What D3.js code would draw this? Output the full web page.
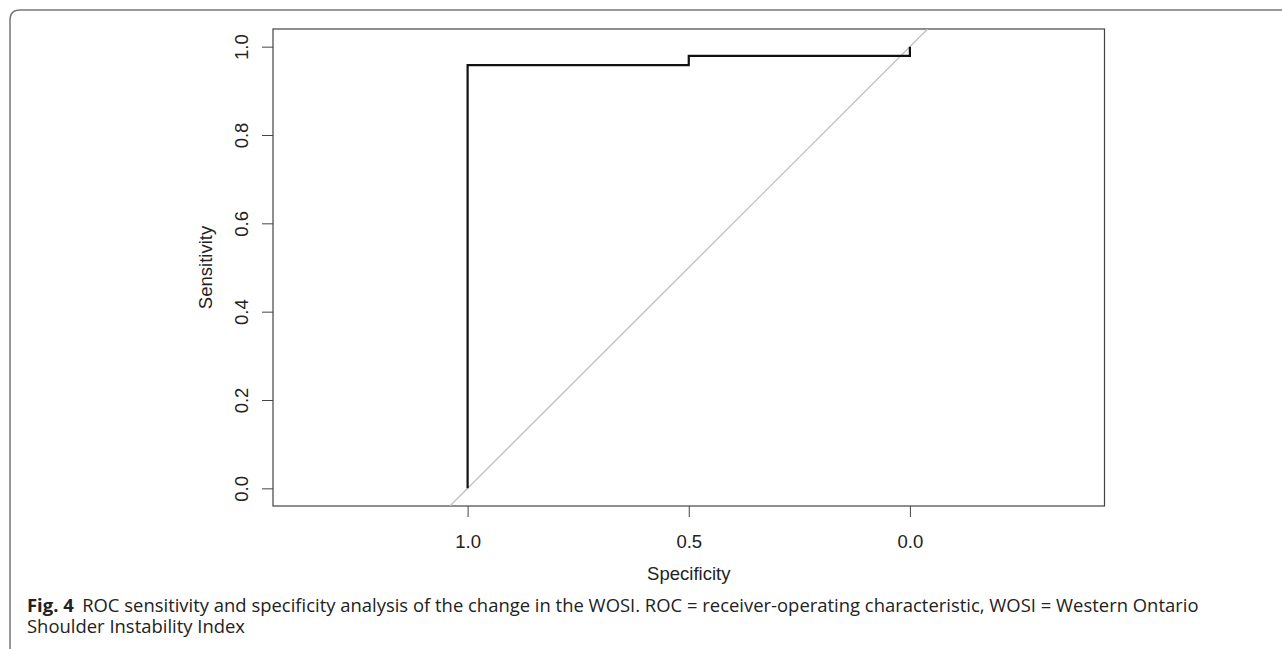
<!DOCTYPE html>
<html>
<head>
<meta charset="utf-8">
<script src="https://cdn.jsdelivr.net/npm/d3@7"></script>
<style>
  body { margin: 0; background: #fff; }
  svg { display: block; }
</style>
</head>
<body>
<div id="chart"></div>
<script>
// ROC curve steps (specificity, sensitivity)
const specificity = [1.0, 1.0, 0.5, 0.5, 0.0, 0.0];
const sensitivity = [0.0, 0.958, 0.958, 0.979, 0.979, 1.0];
const tickValues = [0, 0.2, 0.4, 0.6, 0.8, 1.0];
const xTickValues = [1.0, 0.5, 0.0];
const captionBold = "Fig. 4";
const captionLine1 = "ROC sensitivity and specificity analysis of the change in the WOSI. ROC = receiver-operating characteristic, WOSI = Western Ontario";
const captionLine2 = "Shoulder Instability Index";

const width = 1282, height = 649;
const box = { left: 273, right: 1104.5, top: 29, bottom: 506 };

const svg = d3.select('#chart')
  .append('svg')
    .attr('width', width)
    .attr('height', height);

// figure frame (rounded top-left corner, open right side)
svg.append('path')
  .attr('d', `M10,${height + 5} L10,20 Q10,10 20,10 L${width + 5},10`)
  .attr('fill', 'none')
  .attr('stroke', '#777')
  .attr('stroke-width', 1.5);

const x = d3.scaleLinear()
  .domain([1.44, -0.44])
  .range([box.left, box.right]);

const y = d3.scaleLinear()
  .domain([-0.04, 1.04])
  .range([box.bottom, box.top]);

const tickFont = '"Liberation Sans", Arial, Helvetica, sans-serif';
const fs = 18.5;

// y axis
const yAxis = svg.append('g')
  .attr('transform', `translate(${box.left},0)`)
  .call(d3.axisLeft(y).tickValues(tickValues).tickSize(11).tickFormat(d3.format('.1f')));
yAxis.select('.domain').remove();
yAxis.selectAll('line').attr('stroke', '#444');
yAxis.selectAll('text')
  .style('font-family', tickFont)
  .style('font-size', fs + 'px')
  .attr('fill', '#222')
  .attr('text-anchor', 'middle')
  .attr('x', 0)
  .attr('dy', 0)
  .attr('transform', 'translate(-25,0) rotate(-90)');

// x axis
const xAxis = svg.append('g')
  .attr('transform', `translate(0,${box.bottom})`)
  .call(d3.axisBottom(x).tickValues(xTickValues).tickSize(11).tickFormat(d3.format('.1f')));
xAxis.select('.domain').remove();
xAxis.selectAll('line').attr('stroke', '#444');
xAxis.selectAll('text')
  .style('font-family', tickFont)
  .style('font-size', fs + 'px')
  .attr('fill', '#222')
  .attr('y', 42)
  .attr('dy', 0);

// plot box
svg.append('rect')
  .attr('x', box.left)
  .attr('y', box.top)
  .attr('width', box.right - box.left)
  .attr('height', box.bottom - box.top)
  .attr('fill', 'none')
  .attr('stroke', '#444')
  .attr('stroke-width', 1.2);

// axis titles
svg.append('text')
  .attr('x', x(0.5))
  .attr('y', 580)
  .attr('text-anchor', 'middle')
  .style('font-family', tickFont)
  .style('font-size', fs + 'px')
  .attr('fill', '#222')
  .text('Specificity');

svg.append('text')
  .attr('transform', `translate(212,${(box.top + box.bottom) / 2}) rotate(-90)`)
  .attr('text-anchor', 'middle')
  .style('font-family', tickFont)
  .style('font-size', fs + 'px')
  .attr('fill', '#222')
  .text('Sensitivity');

// chance diagonal clipped to the box
svg.append('clipPath').attr('id', 'plot-clip')
  .append('rect')
    .attr('x', box.left).attr('y', box.top)
    .attr('width', box.right - box.left).attr('height', box.bottom - box.top);

svg.append('line')
  .attr('clip-path', 'url(#plot-clip)')
  .attr('x1', x(1.04)).attr('y1', y(-0.04))
  .attr('x2', x(-0.04)).attr('y2', y(1.04))
  .attr('stroke', '#c0c0c0')
  .attr('stroke-width', 1.3);

// ROC curve
const roc = specificity.map((s, i) => ({ spec: s, sens: sensitivity[i] }));
svg.append('path')
  .datum(roc)
  .attr('fill', 'none')
  .attr('stroke', '#111')
  .attr('stroke-width', 2.2)
  .attr('d', d3.line().x(d => x(d.spec)).y(d => y(d.sens)));

// caption
const cap = svg.append('g')
  .style('font-family', '"Open Sans", "Noto Sans", sans-serif')
  .style('font-size', '17.5px')
  .attr('fill', '#222');

const l1 = cap.append('text').attr('x', 0).attr('y', 612);
l1.append('tspan').attr('font-weight', 'bold').text(captionBold);
l1.append('tspan').attr('dx', 8).text(captionLine1);
cap.append('text').attr('x', 0).attr('y', 633).text(captionLine2);

const w1 = l1.node().getComputedTextLength() + 8;
const sx = (1199 - 27) / w1;
cap.attr('transform', `translate(27,0) scale(${sx},1)`);
</script>
</body>
</html>
